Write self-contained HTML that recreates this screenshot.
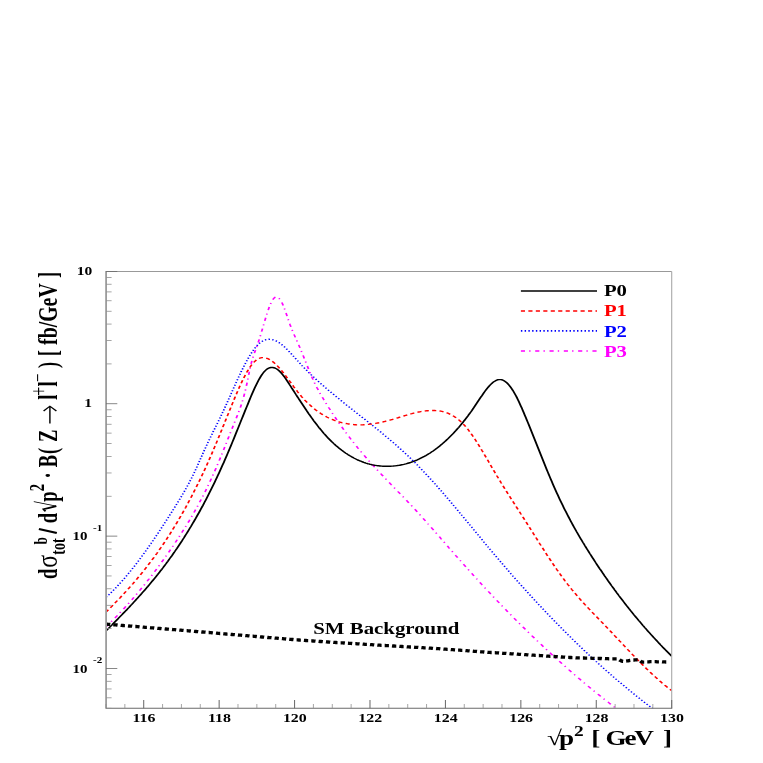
<!DOCTYPE html>
<html><head><meta charset="utf-8"><title>plot</title>
<style>html,body{margin:0;padding:0;background:#fff;}body{width:763px;height:763px;overflow:hidden;font-family:"Liberation Serif",serif;}</style>
</head><body>
<svg width="763" height="763" viewBox="0 0 763 763" style="display:block;will-change:transform;transform:translateZ(0)" font-family="'Liberation Serif', serif" font-weight="bold">
<rect width="763" height="763" fill="#fff"/>
<defs><clipPath id="c"><rect x="81.87" y="271.4" width="436.90" height="436.90"/></clipPath></defs>
<g transform="scale(1.2948,1)">
<g clip-path="url(#c)" fill="none">
<path d="M81.87,597.3 L82.64,596.4 L83.41,595.5 L84.18,594.6 L84.96,593.6 L85.73,592.7 L86.50,591.7 L87.27,590.7 L88.04,589.7 L88.82,588.7 L89.59,587.6 L90.36,586.6 L91.13,585.5 L91.91,584.4 L92.68,583.3 L93.45,582.2 L94.22,581.1 L95.00,580.0 L95.77,578.8 L96.54,577.7 L97.31,576.5 L98.08,575.3 L98.86,574.1 L99.63,572.9 L100.40,571.7 L101.17,570.4 L101.95,569.2 L102.72,567.9 L103.49,566.7 L104.26,565.4 L105.04,564.1 L105.81,562.8 L106.58,561.5 L107.35,560.2 L108.12,558.8 L108.90,557.5 L109.67,556.1 L110.44,554.7 L111.21,553.4 L111.99,552.0 L112.76,550.6 L113.53,549.2 L114.30,547.8 L115.08,546.4 L115.85,544.9 L116.62,543.5 L117.39,542.0 L118.16,540.6 L118.94,539.1 L119.71,537.7 L120.48,536.2 L121.25,534.7 L122.03,533.2 L122.80,531.7 L123.57,530.2 L124.34,528.7 L125.12,527.1 L125.89,525.6 L126.66,524.1 L127.43,522.5 L128.21,521.0 L128.98,519.4 L129.75,517.9 L130.52,516.3 L131.29,514.7 L132.07,513.2 L132.84,511.6 L133.61,510.0 L134.38,508.4 L135.16,506.8 L135.93,505.2 L136.70,503.6 L137.47,502.0 L138.25,500.4 L139.02,498.7 L139.79,497.1 L140.56,495.4 L141.33,493.7 L142.11,492.0 L142.88,490.3 L143.65,488.5 L144.42,486.7 L145.20,484.9 L145.97,483.0 L146.74,481.1 L147.51,479.2 L148.29,477.2 L149.06,475.2 L149.83,473.2 L150.60,471.1 L151.37,468.9 L152.15,466.8 L152.92,464.5 L153.69,462.3 L154.46,460.0 L155.24,457.7 L156.01,455.5 L156.78,453.2 L157.55,451.0 L158.33,448.8 L159.10,446.6 L159.87,444.5 L160.64,442.3 L161.41,440.3 L162.19,438.2 L162.96,436.2 L163.73,434.2 L164.50,432.1 L165.28,430.1 L166.05,428.1 L166.82,426.1 L167.59,424.1 L168.37,422.1 L169.14,420.0 L169.91,418.0 L170.68,415.9 L171.46,413.8 L172.23,411.6 L173.00,409.5 L173.77,407.3 L174.54,405.1 L175.32,402.9 L176.09,400.6 L176.86,398.4 L177.63,396.2 L178.41,393.9 L179.18,391.7 L179.95,389.5 L180.72,387.2 L181.50,385.0 L182.27,382.8 L183.04,380.6 L183.81,378.5 L184.58,376.3 L185.36,374.2 L186.13,372.1 L186.90,370.1 L187.67,368.0 L188.45,366.1 L189.22,364.1 L189.99,362.3 L190.76,360.4 L191.54,358.7 L192.31,356.9 L193.08,355.3 L193.85,353.7 L194.62,352.2 L195.40,350.7 L196.17,349.3 L196.94,348.0 L197.71,346.8 L198.49,345.7 L199.26,344.6 L200.03,343.7 L200.80,342.8 L201.58,342.1 L202.35,341.4 L203.12,340.8 L203.89,340.4 L204.66,340.0 L205.44,339.7 L206.21,339.4 L206.98,339.3 L207.75,339.2 L208.53,339.3 L209.30,339.4 L210.07,339.5 L210.84,339.8 L211.62,340.1 L212.39,340.5 L213.16,340.9 L213.93,341.4 L214.70,342.0 L215.48,342.6 L216.25,343.3 L217.02,344.1 L217.79,344.8 L218.57,345.7 L219.34,346.5 L220.11,347.4 L220.88,348.4 L221.66,349.4 L222.43,350.4 L223.20,351.4 L223.97,352.4 L224.75,353.5 L225.52,354.6 L226.29,355.7 L227.06,356.8 L227.83,357.9 L228.61,359.0 L229.38,360.1 L230.15,361.2 L230.92,362.3 L231.70,363.4 L232.47,364.5 L233.24,365.6 L234.01,366.6 L234.79,367.6 L235.56,368.7 L236.33,369.7 L237.10,370.7 L237.87,371.7 L238.65,372.7 L239.42,373.6 L240.19,374.6 L240.96,375.5 L241.74,376.5 L242.51,377.4 L243.28,378.4 L244.05,379.3 L244.83,380.2 L245.60,381.1 L246.37,382.0 L247.14,382.9 L247.91,383.8 L248.69,384.6 L249.46,385.5 L250.23,386.4 L251.00,387.2 L251.78,388.1 L252.55,389.0 L253.32,389.8 L254.09,390.7 L254.87,391.5 L255.64,392.3 L256.41,393.2 L257.18,394.0 L257.95,394.8 L258.73,395.7 L259.50,396.5 L260.27,397.3 L261.04,398.1 L261.82,398.9 L262.59,399.7 L263.36,400.5 L264.13,401.4 L264.91,402.2 L265.68,403.0 L266.45,403.8 L267.22,404.6 L268.00,405.4 L268.77,406.1 L269.54,406.9 L270.31,407.7 L271.08,408.5 L271.86,409.3 L272.63,410.1 L273.40,410.9 L274.17,411.7 L274.95,412.5 L275.72,413.2 L276.49,414.0 L277.26,414.8 L278.04,415.6 L278.81,416.4 L279.58,417.2 L280.35,418.0 L281.12,418.7 L281.90,419.5 L282.67,420.3 L283.44,421.1 L284.21,421.9 L284.99,422.7 L285.76,423.5 L286.53,424.3 L287.30,425.1 L288.08,425.9 L288.85,426.7 L289.62,427.5 L290.39,428.3 L291.16,429.1 L291.94,429.9 L292.71,430.7 L293.48,431.5 L294.25,432.3 L295.03,433.2 L295.80,434.0 L296.57,434.8 L297.34,435.6 L298.12,436.5 L298.89,437.3 L299.66,438.1 L300.43,439.0 L301.20,439.8 L301.98,440.7 L302.75,441.5 L303.52,442.4 L304.29,443.3 L305.07,444.1 L305.84,445.0 L306.61,445.9 L307.38,446.8 L308.16,447.7 L308.93,448.6 L309.70,449.5 L310.47,450.4 L311.24,451.3 L312.02,452.2 L312.79,453.1 L313.56,454.1 L314.33,455.0 L315.11,455.9 L315.88,456.9 L316.65,457.8 L317.42,458.8 L318.20,459.8 L318.97,460.8 L319.74,461.7 L320.51,462.7 L321.29,463.7 L322.06,464.7 L322.83,465.8 L323.60,466.8 L324.37,467.8 L325.15,468.8 L325.92,469.9 L326.69,470.9 L327.46,472.0 L328.24,473.0 L329.01,474.1 L329.78,475.2 L330.55,476.2 L331.33,477.3 L332.10,478.4 L332.87,479.5 L333.64,480.6 L334.41,481.7 L335.19,482.8 L335.96,483.9 L336.73,485.1 L337.50,486.2 L338.28,487.3 L339.05,488.5 L339.82,489.6 L340.59,490.7 L341.37,491.9 L342.14,493.0 L342.91,494.2 L343.68,495.3 L344.45,496.5 L345.23,497.7 L346.00,498.8 L346.77,500.0 L347.54,501.2 L348.32,502.4 L349.09,503.5 L349.86,504.7 L350.63,505.9 L351.41,507.1 L352.18,508.3 L352.95,509.5 L353.72,510.7 L354.49,511.9 L355.27,513.1 L356.04,514.3 L356.81,515.5 L357.58,516.7 L358.36,517.9 L359.13,519.1 L359.90,520.3 L360.67,521.5 L361.45,522.7 L362.22,523.9 L362.99,525.1 L363.76,526.3 L364.54,527.5 L365.31,528.8 L366.08,530.0 L366.85,531.2 L367.62,532.4 L368.40,533.6 L369.17,534.8 L369.94,536.0 L370.71,537.2 L371.49,538.4 L372.26,539.6 L373.03,540.8 L373.80,542.1 L374.58,543.3 L375.35,544.5 L376.12,545.7 L376.89,546.9 L377.66,548.1 L378.44,549.3 L379.21,550.4 L379.98,551.6 L380.75,552.8 L381.53,554.0 L382.30,555.2 L383.07,556.4 L383.84,557.6 L384.62,558.7 L385.39,559.9 L386.16,561.1 L386.93,562.2 L387.70,563.4 L388.48,564.6 L389.25,565.7 L390.02,566.9 L390.79,568.0 L391.57,569.2 L392.34,570.4 L393.11,571.5 L393.88,572.6 L394.66,573.8 L395.43,574.9 L396.20,576.1 L396.97,577.2 L397.74,578.3 L398.52,579.5 L399.29,580.6 L400.06,581.7 L400.83,582.8 L401.61,584.0 L402.38,585.1 L403.15,586.2 L403.92,587.3 L404.70,588.4 L405.47,589.5 L406.24,590.6 L407.01,591.7 L407.78,592.8 L408.56,593.9 L409.33,595.0 L410.10,596.1 L410.87,597.2 L411.65,598.3 L412.42,599.4 L413.19,600.5 L413.96,601.5 L414.74,602.6 L415.51,603.7 L416.28,604.8 L417.05,605.8 L417.83,606.9 L418.60,608.0 L419.37,609.0 L420.14,610.1 L420.91,611.1 L421.69,612.2 L422.46,613.2 L423.23,614.3 L424.00,615.3 L424.78,616.4 L425.55,617.4 L426.32,618.4 L427.09,619.5 L427.87,620.5 L428.64,621.5 L429.41,622.6 L430.18,623.6 L430.95,624.6 L431.73,625.6 L432.50,626.6 L433.27,627.6 L434.04,628.7 L434.82,629.7 L435.59,630.7 L436.36,631.7 L437.13,632.7 L437.91,633.7 L438.68,634.7 L439.45,635.6 L440.22,636.6 L440.99,637.6 L441.77,638.6 L442.54,639.6 L443.31,640.6 L444.08,641.5 L444.86,642.5 L445.63,643.5 L446.40,644.4 L447.17,645.4 L447.95,646.4 L448.72,647.3 L449.49,648.3 L450.26,649.2 L451.03,650.2 L451.81,651.1 L452.58,652.1 L453.35,653.0 L454.12,653.9 L454.90,654.9 L455.67,655.8 L456.44,656.7 L457.21,657.7 L457.99,658.6 L458.76,659.5 L459.53,660.4 L460.30,661.4 L461.08,662.3 L461.85,663.2 L462.62,664.1 L463.39,665.0 L464.16,665.9 L464.94,666.8 L465.71,667.7 L466.48,668.6 L467.25,669.5 L468.03,670.4 L468.80,671.2 L469.57,672.1 L470.34,673.0 L471.12,673.9 L471.89,674.8 L472.66,675.6 L473.43,676.5 L474.20,677.4 L474.98,678.2 L475.75,679.1 L476.52,679.9 L477.29,680.8 L478.07,681.6 L478.84,682.5 L479.61,683.3 L480.38,684.2 L481.16,685.0 L481.93,685.8 L482.70,686.7 L483.47,687.5 L484.24,688.3 L485.02,689.2 L485.79,690.0 L486.56,690.8 L487.33,691.6 L488.11,692.4 L488.88,693.2 L489.65,694.0 L490.42,694.9 L491.20,695.7 L491.97,696.5 L492.74,697.2 L493.51,698.0 L494.28,698.8 L495.06,699.6 L495.83,700.4 L496.60,701.2 L497.37,702.0 L498.15,702.7 L498.92,703.5 L499.69,704.3 L500.46,705.0 L501.24,705.8 L502.01,706.6 L502.78,707.3 L503.55,708.1 L504.32,708.8 L505.10,709.6 L505.87,710.3 L506.64,711.1 L507.41,711.8 L508.19,712.5 L508.96,713.3 L509.73,714.0" stroke="#0000ff" stroke-width="1.35" stroke-dasharray="1.15 1.75"/>
<path d="M81.87,626.7 L82.64,625.8 L83.41,624.8 L84.18,623.9 L84.96,622.9 L85.73,621.9 L86.50,620.9 L87.27,619.9 L88.04,618.9 L88.82,617.9 L89.59,616.9 L90.36,615.9 L91.13,614.8 L91.91,613.8 L92.68,612.7 L93.45,611.7 L94.22,610.6 L95.00,609.5 L95.77,608.5 L96.54,607.4 L97.31,606.3 L98.08,605.2 L98.86,604.1 L99.63,602.9 L100.40,601.8 L101.17,600.7 L101.95,599.6 L102.72,598.4 L103.49,597.2 L104.26,596.1 L105.04,594.9 L105.81,593.7 L106.58,592.5 L107.35,591.4 L108.12,590.1 L108.90,588.9 L109.67,587.7 L110.44,586.5 L111.21,585.3 L111.99,584.0 L112.76,582.8 L113.53,581.5 L114.30,580.2 L115.08,579.0 L115.85,577.7 L116.62,576.4 L117.39,575.1 L118.16,573.8 L118.94,572.5 L119.71,571.2 L120.48,569.8 L121.25,568.5 L122.03,567.2 L122.80,565.8 L123.57,564.4 L124.34,563.1 L125.12,561.7 L125.89,560.3 L126.66,558.9 L127.43,557.5 L128.21,556.1 L128.98,554.7 L129.75,553.2 L130.52,551.8 L131.29,550.4 L132.07,548.9 L132.84,547.4 L133.61,546.0 L134.38,544.5 L135.16,543.0 L135.93,541.5 L136.70,540.0 L137.47,538.5 L138.25,537.0 L139.02,535.4 L139.79,533.9 L140.56,532.3 L141.33,530.8 L142.11,529.2 L142.88,527.6 L143.65,526.0 L144.42,524.4 L145.20,522.7 L145.97,521.1 L146.74,519.4 L147.51,517.7 L148.29,516.0 L149.06,514.3 L149.83,512.5 L150.60,510.7 L151.37,509.0 L152.15,507.2 L152.92,505.3 L153.69,503.5 L154.46,501.6 L155.24,499.7 L156.01,497.8 L156.78,495.9 L157.55,493.9 L158.33,491.9 L159.10,489.9 L159.87,487.8 L160.64,485.8 L161.41,483.7 L162.19,481.6 L162.96,479.4 L163.73,477.2 L164.50,475.0 L165.28,472.8 L166.05,470.5 L166.82,468.2 L167.59,465.9 L168.37,463.5 L169.14,461.1 L169.91,458.7 L170.68,456.3 L171.46,453.8 L172.23,451.4 L173.00,448.9 L173.77,446.4 L174.54,443.9 L175.32,441.4 L176.09,438.8 L176.86,436.3 L177.63,433.8 L178.41,431.3 L179.18,428.8 L179.95,426.2 L180.72,423.7 L181.50,421.2 L182.27,418.8 L183.04,416.3 L183.81,413.8 L184.58,411.2 L185.36,408.5 L186.13,405.6 L186.90,402.5 L187.67,399.3 L188.45,395.7 L189.22,391.9 L189.99,387.7 L190.76,383.1 L191.54,378.2 L192.31,373.3 L193.08,368.5 L193.85,364.3 L194.62,360.5 L195.40,357.2 L196.17,354.3 L196.94,351.5 L197.71,348.8 L198.49,346.1 L199.26,343.2 L200.03,340.1 L200.80,337.0 L201.58,333.7 L202.35,330.3 L203.12,327.0 L203.89,323.6 L204.66,320.2 L205.44,316.9 L206.21,313.7 L206.98,310.7 L207.75,307.8 L208.53,305.2 L209.30,302.9 L210.07,300.9 L210.84,299.3 L211.62,298.1 L212.39,297.4 L213.16,297.0 L213.93,297.1 L214.70,297.5 L215.48,298.3 L216.25,299.5 L217.02,301.0 L217.79,302.8 L218.57,305.0 L219.34,307.5 L220.11,310.1 L220.88,313.0 L221.66,315.9 L222.43,318.8 L223.20,321.7 L223.97,324.5 L224.75,327.1 L225.52,329.6 L226.29,332.0 L227.06,334.3 L227.83,336.6 L228.61,338.8 L229.38,341.0 L230.15,343.3 L230.92,345.6 L231.70,347.9 L232.47,350.3 L233.24,352.8 L234.01,355.2 L234.79,357.7 L235.56,360.2 L236.33,362.7 L237.10,365.2 L237.87,367.7 L238.65,370.2 L239.42,372.6 L240.19,374.9 L240.96,377.3 L241.74,379.5 L242.51,381.7 L243.28,383.8 L244.05,385.8 L244.83,387.8 L245.60,389.6 L246.37,391.5 L247.14,393.3 L247.91,395.0 L248.69,396.7 L249.46,398.3 L250.23,400.0 L251.00,401.6 L251.78,403.2 L252.55,404.8 L253.32,406.4 L254.09,408.0 L254.87,409.5 L255.64,411.1 L256.41,412.6 L257.18,414.1 L257.95,415.6 L258.73,417.1 L259.50,418.6 L260.27,420.1 L261.04,421.5 L261.82,423.0 L262.59,424.4 L263.36,425.8 L264.13,427.2 L264.91,428.6 L265.68,430.0 L266.45,431.4 L267.22,432.7 L268.00,434.1 L268.77,435.4 L269.54,436.7 L270.31,438.0 L271.08,439.3 L271.86,440.6 L272.63,441.9 L273.40,443.1 L274.17,444.4 L274.95,445.6 L275.72,446.8 L276.49,448.1 L277.26,449.3 L278.04,450.5 L278.81,451.7 L279.58,452.8 L280.35,454.0 L281.12,455.2 L281.90,456.3 L282.67,457.5 L283.44,458.6 L284.21,459.7 L284.99,460.9 L285.76,462.0 L286.53,463.1 L287.30,464.2 L288.08,465.3 L288.85,466.4 L289.62,467.5 L290.39,468.6 L291.16,469.7 L291.94,470.7 L292.71,471.8 L293.48,472.9 L294.25,473.9 L295.03,475.0 L295.80,476.0 L296.57,477.1 L297.34,478.1 L298.12,479.2 L298.89,480.2 L299.66,481.3 L300.43,482.3 L301.20,483.3 L301.98,484.4 L302.75,485.4 L303.52,486.4 L304.29,487.5 L305.07,488.5 L305.84,489.5 L306.61,490.5 L307.38,491.6 L308.16,492.6 L308.93,493.6 L309.70,494.7 L310.47,495.7 L311.24,496.7 L312.02,497.8 L312.79,498.8 L313.56,499.9 L314.33,500.9 L315.11,502.0 L315.88,503.0 L316.65,504.1 L317.42,505.1 L318.20,506.2 L318.97,507.3 L319.74,508.3 L320.51,509.4 L321.29,510.5 L322.06,511.6 L322.83,512.7 L323.60,513.7 L324.37,514.8 L325.15,515.9 L325.92,517.1 L326.69,518.2 L327.46,519.3 L328.24,520.4 L329.01,521.5 L329.78,522.6 L330.55,523.8 L331.33,524.9 L332.10,526.0 L332.87,527.2 L333.64,528.3 L334.41,529.4 L335.19,530.6 L335.96,531.7 L336.73,532.8 L337.50,534.0 L338.28,535.1 L339.05,536.3 L339.82,537.4 L340.59,538.6 L341.37,539.7 L342.14,540.9 L342.91,542.0 L343.68,543.2 L344.45,544.3 L345.23,545.5 L346.00,546.6 L346.77,547.8 L347.54,548.9 L348.32,550.1 L349.09,551.2 L349.86,552.4 L350.63,553.5 L351.41,554.6 L352.18,555.8 L352.95,556.9 L353.72,558.1 L354.49,559.2 L355.27,560.3 L356.04,561.4 L356.81,562.6 L357.58,563.7 L358.36,564.8 L359.13,565.9 L359.90,567.1 L360.67,568.2 L361.45,569.3 L362.22,570.4 L362.99,571.5 L363.76,572.6 L364.54,573.7 L365.31,574.8 L366.08,575.9 L366.85,577.0 L367.62,578.1 L368.40,579.2 L369.17,580.3 L369.94,581.4 L370.71,582.5 L371.49,583.6 L372.26,584.7 L373.03,585.7 L373.80,586.8 L374.58,587.9 L375.35,589.0 L376.12,590.0 L376.89,591.1 L377.66,592.2 L378.44,593.2 L379.21,594.3 L379.98,595.3 L380.75,596.4 L381.53,597.5 L382.30,598.5 L383.07,599.6 L383.84,600.6 L384.62,601.7 L385.39,602.7 L386.16,603.7 L386.93,604.8 L387.70,605.8 L388.48,606.8 L389.25,607.9 L390.02,608.9 L390.79,609.9 L391.57,611.0 L392.34,612.0 L393.11,613.0 L393.88,614.0 L394.66,615.0 L395.43,616.0 L396.20,617.1 L396.97,618.1 L397.74,619.1 L398.52,620.1 L399.29,621.1 L400.06,622.1 L400.83,623.1 L401.61,624.1 L402.38,625.1 L403.15,626.0 L403.92,627.0 L404.70,628.0 L405.47,629.0 L406.24,630.0 L407.01,631.0 L407.78,631.9 L408.56,632.9 L409.33,633.9 L410.10,634.8 L410.87,635.8 L411.65,636.8 L412.42,637.7 L413.19,638.7 L413.96,639.7 L414.74,640.6 L415.51,641.6 L416.28,642.5 L417.05,643.5 L417.83,644.4 L418.60,645.3 L419.37,646.3 L420.14,647.2 L420.91,648.2 L421.69,649.1 L422.46,650.0 L423.23,650.9 L424.00,651.9 L424.78,652.8 L425.55,653.7 L426.32,654.6 L427.09,655.5 L427.87,656.5 L428.64,657.4 L429.41,658.3 L430.18,659.2 L430.95,660.1 L431.73,661.0 L432.50,661.9 L433.27,662.8 L434.04,663.7 L434.82,664.6 L435.59,665.5 L436.36,666.3 L437.13,667.2 L437.91,668.1 L438.68,669.0 L439.45,669.9 L440.22,670.7 L440.99,671.6 L441.77,672.5 L442.54,673.3 L443.31,674.2 L444.08,675.1 L444.86,675.9 L445.63,676.8 L446.40,677.6 L447.17,678.5 L447.95,679.3 L448.72,680.2 L449.49,681.0 L450.26,681.9 L451.03,682.7 L451.81,683.6 L452.58,684.4 L453.35,685.2 L454.12,686.1 L454.90,686.9 L455.67,687.7 L456.44,688.5 L457.21,689.4 L457.99,690.2 L458.76,691.0 L459.53,691.8 L460.30,692.6 L461.08,693.4 L461.85,694.2 L462.62,695.0 L463.39,695.8 L464.16,696.6 L464.94,697.4 L465.71,698.2 L466.48,699.0 L467.25,699.8 L468.03,700.6 L468.80,701.4 L469.57,702.1 L470.34,702.9 L471.12,703.7 L471.89,704.5 L472.66,705.2 L473.43,706.0 L474.20,706.8 L474.98,707.5 L475.75,708.3 L476.52,709.1 L477.29,709.8 L478.07,710.6 L478.84,711.3 L479.61,712.1 L480.38,712.8" stroke="#ff00ff" stroke-width="1.35" stroke-dasharray="3.2 3.2 1.1 3.6"/>
<path d="M81.71,612.3 L82.48,611.3 L83.26,610.3 L84.03,609.3 L84.80,608.3 L85.57,607.3 L86.35,606.3 L87.12,605.3 L87.89,604.3 L88.66,603.3 L89.43,602.2 L90.21,601.2 L90.98,600.2 L91.75,599.1 L92.52,598.1 L93.30,597.0 L94.07,595.9 L94.84,594.9 L95.61,593.8 L96.39,592.7 L97.16,591.6 L97.93,590.5 L98.70,589.4 L99.47,588.3 L100.25,587.2 L101.02,586.1 L101.79,584.9 L102.56,583.8 L103.34,582.6 L104.11,581.5 L104.88,580.3 L105.65,579.1 L106.43,577.9 L107.20,576.7 L107.97,575.5 L108.74,574.3 L109.51,573.1 L110.29,571.9 L111.06,570.6 L111.83,569.4 L112.60,568.1 L113.38,566.8 L114.15,565.5 L114.92,564.2 L115.69,562.9 L116.47,561.6 L117.24,560.3 L118.01,558.9 L118.78,557.6 L119.56,556.2 L120.33,554.8 L121.10,553.5 L121.87,552.1 L122.64,550.6 L123.42,549.2 L124.19,547.8 L124.96,546.3 L125.73,544.9 L126.51,543.4 L127.28,541.9 L128.05,540.4 L128.82,538.9 L129.60,537.3 L130.37,535.8 L131.14,534.2 L131.91,532.6 L132.68,531.1 L133.46,529.4 L134.23,527.8 L135.00,526.2 L135.77,524.5 L136.55,522.9 L137.32,521.2 L138.09,519.5 L138.86,517.8 L139.64,516.1 L140.41,514.3 L141.18,512.6 L141.95,510.8 L142.72,509.0 L143.50,507.2 L144.27,505.3 L145.04,503.5 L145.81,501.6 L146.59,499.8 L147.36,497.9 L148.13,495.9 L148.90,494.0 L149.68,492.1 L150.45,490.1 L151.22,488.1 L151.99,486.1 L152.76,484.1 L153.54,482.0 L154.31,480.0 L155.08,477.9 L155.85,475.8 L156.63,473.7 L157.40,471.5 L158.17,469.4 L158.94,467.2 L159.72,465.0 L160.49,462.8 L161.26,460.5 L162.03,458.3 L162.81,456.0 L163.58,453.7 L164.35,451.3 L165.12,449.0 L165.89,446.6 L166.67,444.3 L167.44,441.9 L168.21,439.4 L168.98,437.0 L169.76,434.6 L170.53,432.1 L171.30,429.7 L172.07,427.2 L172.85,424.7 L173.62,422.3 L174.39,419.8 L175.16,417.3 L175.93,414.9 L176.71,412.4 L177.48,410.0 L178.25,407.5 L179.02,405.1 L179.80,402.6 L180.57,400.2 L181.34,397.8 L182.11,395.5 L182.89,393.1 L183.66,390.8 L184.43,388.5 L185.20,386.3 L185.97,384.1 L186.75,382.0 L187.52,379.9 L188.29,377.9 L189.06,376.0 L189.84,374.1 L190.61,372.3 L191.38,370.6 L192.15,369.0 L192.93,367.5 L193.70,366.0 L194.47,364.7 L195.24,363.5 L196.01,362.4 L196.79,361.4 L197.56,360.5 L198.33,359.7 L199.10,359.1 L199.88,358.6 L200.65,358.2 L201.42,357.9 L202.19,357.7 L202.97,357.6 L203.74,357.7 L204.51,357.8 L205.28,358.0 L206.05,358.3 L206.83,358.7 L207.60,359.1 L208.37,359.7 L209.14,360.3 L209.92,360.9 L210.69,361.7 L211.46,362.5 L212.23,363.4 L213.01,364.3 L213.78,365.3 L214.55,366.3 L215.32,367.4 L216.10,368.6 L216.87,369.7 L217.64,370.9 L218.41,372.1 L219.18,373.4 L219.96,374.7 L220.73,376.0 L221.50,377.3 L222.27,378.7 L223.05,380.0 L223.82,381.4 L224.59,382.7 L225.36,384.1 L226.14,385.4 L226.91,386.8 L227.68,388.1 L228.45,389.4 L229.22,390.7 L230.00,392.0 L230.77,393.2 L231.54,394.5 L232.31,395.6 L233.09,396.8 L233.86,397.9 L234.63,399.0 L235.40,400.1 L236.18,401.1 L236.95,402.1 L237.72,403.1 L238.49,404.0 L239.26,404.9 L240.04,405.8 L240.81,406.7 L241.58,407.6 L242.35,408.4 L243.13,409.2 L243.90,410.0 L244.67,410.7 L245.44,411.4 L246.22,412.1 L246.99,412.8 L247.76,413.5 L248.53,414.1 L249.30,414.7 L250.08,415.3 L250.85,415.9 L251.62,416.4 L252.39,417.0 L253.17,417.5 L253.94,418.0 L254.71,418.4 L255.48,418.9 L256.26,419.3 L257.03,419.7 L257.80,420.1 L258.57,420.5 L259.35,420.9 L260.12,421.2 L260.89,421.5 L261.66,421.8 L262.43,422.1 L263.21,422.4 L263.98,422.7 L264.75,422.9 L265.52,423.1 L266.30,423.3 L267.07,423.5 L267.84,423.7 L268.61,423.9 L269.39,424.0 L270.16,424.2 L270.93,424.3 L271.70,424.4 L272.47,424.5 L273.25,424.6 L274.02,424.7 L274.79,424.7 L275.56,424.8 L276.34,424.8 L277.11,424.8 L277.88,424.8 L278.65,424.8 L279.43,424.8 L280.20,424.8 L280.97,424.7 L281.74,424.7 L282.51,424.6 L283.29,424.5 L284.06,424.4 L284.83,424.3 L285.60,424.2 L286.38,424.1 L287.15,424.0 L287.92,423.8 L288.69,423.7 L289.47,423.5 L290.24,423.4 L291.01,423.2 L291.78,423.0 L292.55,422.8 L293.33,422.6 L294.10,422.4 L294.87,422.2 L295.64,422.0 L296.42,421.7 L297.19,421.5 L297.96,421.2 L298.73,421.0 L299.51,420.7 L300.28,420.5 L301.05,420.2 L301.82,419.9 L302.59,419.6 L303.37,419.3 L304.14,419.0 L304.91,418.7 L305.68,418.4 L306.46,418.1 L307.23,417.8 L308.00,417.5 L308.77,417.2 L309.55,416.9 L310.32,416.6 L311.09,416.3 L311.86,416.0 L312.64,415.7 L313.41,415.4 L314.18,415.1 L314.95,414.8 L315.72,414.5 L316.50,414.2 L317.27,413.9 L318.04,413.7 L318.81,413.4 L319.59,413.1 L320.36,412.9 L321.13,412.7 L321.90,412.4 L322.68,412.2 L323.45,412.0 L324.22,411.8 L324.99,411.6 L325.76,411.4 L326.54,411.3 L327.31,411.1 L328.08,411.0 L328.85,410.9 L329.63,410.7 L330.40,410.7 L331.17,410.6 L331.94,410.5 L332.72,410.5 L333.49,410.5 L334.26,410.5 L335.03,410.5 L335.80,410.5 L336.58,410.6 L337.35,410.6 L338.12,410.8 L338.89,410.9 L339.67,411.0 L340.44,411.2 L341.21,411.4 L341.98,411.6 L342.76,411.9 L343.53,412.2 L344.30,412.5 L345.07,412.8 L345.84,413.2 L346.62,413.6 L347.39,414.1 L348.16,414.6 L348.93,415.1 L349.71,415.7 L350.48,416.3 L351.25,416.9 L352.02,417.6 L352.80,418.3 L353.57,419.1 L354.34,419.9 L355.11,420.7 L355.89,421.6 L356.66,422.6 L357.43,423.6 L358.20,424.6 L358.97,425.7 L359.75,426.8 L360.52,428.0 L361.29,429.2 L362.06,430.5 L362.84,431.8 L363.61,433.2 L364.38,434.6 L365.15,436.0 L365.93,437.5 L366.70,439.0 L367.47,440.5 L368.24,442.1 L369.01,443.6 L369.79,445.2 L370.56,446.9 L371.33,448.5 L372.10,450.2 L372.88,451.8 L373.65,453.5 L374.42,455.2 L375.19,456.9 L375.97,458.6 L376.74,460.3 L377.51,462.1 L378.28,463.8 L379.05,465.5 L379.83,467.2 L380.60,468.9 L381.37,470.6 L382.14,472.3 L382.92,474.0 L383.69,475.7 L384.46,477.3 L385.23,479.0 L386.01,480.6 L386.78,482.3 L387.55,483.9 L388.32,485.5 L389.09,487.1 L389.87,488.7 L390.64,490.3 L391.41,491.9 L392.18,493.5 L392.96,495.1 L393.73,496.6 L394.50,498.2 L395.27,499.8 L396.05,501.3 L396.82,502.9 L397.59,504.4 L398.36,506.0 L399.14,507.6 L399.91,509.1 L400.68,510.7 L401.45,512.2 L402.22,513.8 L403.00,515.3 L403.77,516.9 L404.54,518.4 L405.31,520.0 L406.09,521.6 L406.86,523.1 L407.63,524.7 L408.40,526.3 L409.18,527.9 L409.95,529.5 L410.72,531.0 L411.49,532.6 L412.26,534.2 L413.04,535.8 L413.81,537.4 L414.58,538.9 L415.35,540.5 L416.13,542.1 L416.90,543.7 L417.67,545.2 L418.44,546.8 L419.22,548.4 L419.99,549.9 L420.76,551.5 L421.53,553.0 L422.30,554.6 L423.08,556.1 L423.85,557.6 L424.62,559.1 L425.39,560.6 L426.17,562.1 L426.94,563.6 L427.71,565.1 L428.48,566.6 L429.26,568.0 L430.03,569.5 L430.80,570.9 L431.57,572.3 L432.34,573.7 L433.12,575.1 L433.89,576.5 L434.66,577.9 L435.43,579.2 L436.21,580.6 L436.98,581.9 L437.75,583.2 L438.52,584.5 L439.30,585.7 L440.07,587.0 L440.84,588.2 L441.61,589.5 L442.38,590.7 L443.16,591.9 L443.93,593.1 L444.70,594.2 L445.47,595.4 L446.25,596.6 L447.02,597.7 L447.79,598.8 L448.56,600.0 L449.34,601.1 L450.11,602.2 L450.88,603.3 L451.65,604.4 L452.43,605.4 L453.20,606.5 L453.97,607.6 L454.74,608.7 L455.51,609.7 L456.29,610.8 L457.06,611.8 L457.83,612.9 L458.60,613.9 L459.38,614.9 L460.15,616.0 L460.92,617.0 L461.69,618.0 L462.47,619.1 L463.24,620.1 L464.01,621.1 L464.78,622.2 L465.55,623.2 L466.33,624.2 L467.10,625.3 L467.87,626.3 L468.64,627.3 L469.42,628.4 L470.19,629.4 L470.96,630.5 L471.73,631.5 L472.51,632.6 L473.28,633.7 L474.05,634.7 L474.82,635.8 L475.59,636.8 L476.37,637.9 L477.14,639.0 L477.91,640.0 L478.68,641.1 L479.46,642.1 L480.23,643.2 L481.00,644.3 L481.77,645.3 L482.55,646.4 L483.32,647.4 L484.09,648.5 L484.86,649.6 L485.63,650.6 L486.41,651.7 L487.18,652.7 L487.95,653.8 L488.72,654.8 L489.50,655.8 L490.27,656.9 L491.04,657.9 L491.81,658.9 L492.59,660.0 L493.36,661.0 L494.13,662.0 L494.90,663.0 L495.68,664.0 L496.45,665.0 L497.22,666.0 L497.99,667.0 L498.76,668.0 L499.54,669.0 L500.31,669.9 L501.08,670.9 L501.85,671.8 L502.63,672.8 L503.40,673.7 L504.17,674.7 L504.94,675.6 L505.72,676.5 L506.49,677.4 L507.26,678.3 L508.03,679.2 L508.80,680.1 L509.58,681.0 L510.35,681.8 L511.12,682.7 L511.89,683.5 L512.67,684.3 L513.44,685.2 L514.21,686.0 L514.98,686.8 L515.76,687.6 L516.53,688.3 L517.30,689.1 L518.07,689.9 L518.84,690.6" stroke="#ff0000" stroke-width="1.35" stroke-dasharray="3.2 2.56"/>
<path d="M81.71,631.1 L82.48,630.1 L83.26,629.1 L84.03,628.1 L84.80,627.1 L85.57,626.1 L86.35,625.1 L87.12,624.0 L87.89,623.0 L88.66,622.0 L89.43,621.0 L90.21,620.0 L90.98,619.0 L91.75,617.9 L92.52,616.9 L93.30,615.9 L94.07,614.9 L94.84,613.8 L95.61,612.8 L96.39,611.8 L97.16,610.7 L97.93,609.7 L98.70,608.6 L99.47,607.6 L100.25,606.5 L101.02,605.4 L101.79,604.4 L102.56,603.3 L103.34,602.2 L104.11,601.1 L104.88,600.0 L105.65,598.9 L106.43,597.8 L107.20,596.7 L107.97,595.6 L108.74,594.5 L109.51,593.4 L110.29,592.2 L111.06,591.1 L111.83,590.0 L112.60,588.8 L113.38,587.6 L114.15,586.5 L114.92,585.3 L115.69,584.1 L116.47,582.9 L117.24,581.7 L118.01,580.5 L118.78,579.3 L119.56,578.1 L120.33,576.9 L121.10,575.6 L121.87,574.4 L122.64,573.1 L123.42,571.8 L124.19,570.5 L124.96,569.3 L125.73,568.0 L126.51,566.6 L127.28,565.3 L128.05,564.0 L128.82,562.6 L129.60,561.3 L130.37,559.9 L131.14,558.5 L131.91,557.2 L132.68,555.8 L133.46,554.3 L134.23,552.9 L135.00,551.5 L135.77,550.0 L136.55,548.6 L137.32,547.1 L138.09,545.6 L138.86,544.1 L139.64,542.6 L140.41,541.1 L141.18,539.5 L141.95,538.0 L142.72,536.4 L143.50,534.8 L144.27,533.2 L145.04,531.6 L145.81,530.0 L146.59,528.3 L147.36,526.7 L148.13,525.0 L148.90,523.3 L149.68,521.6 L150.45,519.9 L151.22,518.2 L151.99,516.4 L152.76,514.6 L153.54,512.9 L154.31,511.1 L155.08,509.2 L155.85,507.4 L156.63,505.6 L157.40,503.7 L158.17,501.8 L158.94,499.9 L159.72,498.0 L160.49,496.0 L161.26,494.1 L162.03,492.1 L162.81,490.1 L163.58,488.1 L164.35,486.0 L165.12,484.0 L165.89,481.9 L166.67,479.8 L167.44,477.7 L168.21,475.6 L168.98,473.4 L169.76,471.3 L170.53,469.1 L171.30,466.8 L172.07,464.6 L172.85,462.4 L173.62,460.1 L174.39,457.8 L175.16,455.5 L175.93,453.1 L176.71,450.8 L177.48,448.4 L178.25,446.0 L179.02,443.6 L179.80,441.1 L180.57,438.7 L181.34,436.3 L182.11,433.8 L182.89,431.3 L183.66,428.9 L184.43,426.4 L185.20,423.9 L185.97,421.4 L186.75,418.9 L187.52,416.5 L188.29,414.0 L189.06,411.5 L189.84,409.0 L190.61,406.6 L191.38,404.2 L192.15,401.7 L192.93,399.3 L193.70,396.9 L194.47,394.6 L195.24,392.3 L196.01,390.0 L196.79,387.8 L197.56,385.7 L198.33,383.7 L199.10,381.7 L199.88,379.8 L200.65,378.1 L201.42,376.4 L202.19,374.9 L202.97,373.5 L203.74,372.2 L204.51,371.1 L205.28,370.1 L206.05,369.3 L206.83,368.6 L207.60,368.1 L208.37,367.8 L209.14,367.5 L209.92,367.5 L210.69,367.5 L211.46,367.7 L212.23,368.0 L213.01,368.5 L213.78,369.0 L214.55,369.7 L215.32,370.5 L216.10,371.5 L216.87,372.5 L217.64,373.6 L218.41,374.9 L219.18,376.2 L219.96,377.5 L220.73,378.9 L221.50,380.4 L222.27,381.9 L223.05,383.4 L223.82,385.0 L224.59,386.5 L225.36,388.1 L226.14,389.6 L226.91,391.2 L227.68,392.7 L228.45,394.3 L229.22,395.8 L230.00,397.3 L230.77,398.9 L231.54,400.4 L232.31,401.9 L233.09,403.4 L233.86,404.9 L234.63,406.4 L235.40,407.9 L236.18,409.4 L236.95,410.9 L237.72,412.3 L238.49,413.8 L239.26,415.2 L240.04,416.6 L240.81,418.0 L241.58,419.4 L242.35,420.8 L243.13,422.1 L243.90,423.4 L244.67,424.7 L245.44,426.0 L246.22,427.3 L246.99,428.5 L247.76,429.7 L248.53,430.9 L249.30,432.1 L250.08,433.3 L250.85,434.4 L251.62,435.5 L252.39,436.6 L253.17,437.7 L253.94,438.7 L254.71,439.7 L255.48,440.7 L256.26,441.7 L257.03,442.6 L257.80,443.6 L258.57,444.5 L259.35,445.4 L260.12,446.2 L260.89,447.1 L261.66,447.9 L262.43,448.7 L263.21,449.5 L263.98,450.3 L264.75,451.0 L265.52,451.8 L266.30,452.5 L267.07,453.2 L267.84,453.8 L268.61,454.5 L269.39,455.1 L270.16,455.7 L270.93,456.3 L271.70,456.9 L272.47,457.4 L273.25,458.0 L274.02,458.5 L274.79,459.0 L275.56,459.5 L276.34,460.0 L277.11,460.4 L277.88,460.8 L278.65,461.2 L279.43,461.6 L280.20,462.0 L280.97,462.4 L281.74,462.7 L282.51,463.1 L283.29,463.4 L284.06,463.7 L284.83,463.9 L285.60,464.2 L286.38,464.4 L287.15,464.7 L287.92,464.9 L288.69,465.1 L289.47,465.3 L290.24,465.4 L291.01,465.6 L291.78,465.7 L292.55,465.8 L293.33,466.0 L294.10,466.0 L294.87,466.1 L295.64,466.2 L296.42,466.2 L297.19,466.3 L297.96,466.3 L298.73,466.3 L299.51,466.3 L300.28,466.3 L301.05,466.3 L301.82,466.2 L302.59,466.1 L303.37,466.1 L304.14,466.0 L304.91,465.9 L305.68,465.8 L306.46,465.6 L307.23,465.5 L308.00,465.4 L308.77,465.2 L309.55,465.0 L310.32,464.8 L311.09,464.6 L311.86,464.4 L312.64,464.1 L313.41,463.9 L314.18,463.6 L314.95,463.3 L315.72,463.0 L316.50,462.7 L317.27,462.4 L318.04,462.0 L318.81,461.7 L319.59,461.3 L320.36,460.9 L321.13,460.5 L321.90,460.1 L322.68,459.6 L323.45,459.2 L324.22,458.7 L324.99,458.2 L325.76,457.7 L326.54,457.2 L327.31,456.7 L328.08,456.1 L328.85,455.6 L329.63,455.0 L330.40,454.4 L331.17,453.8 L331.94,453.2 L332.72,452.5 L333.49,451.8 L334.26,451.2 L335.03,450.5 L335.80,449.8 L336.58,449.0 L337.35,448.3 L338.12,447.5 L338.89,446.7 L339.67,445.9 L340.44,445.1 L341.21,444.3 L341.98,443.4 L342.76,442.5 L343.53,441.6 L344.30,440.7 L345.07,439.8 L345.84,438.9 L346.62,437.9 L347.39,436.9 L348.16,435.9 L348.93,434.9 L349.71,433.9 L350.48,432.8 L351.25,431.7 L352.02,430.7 L352.80,429.5 L353.57,428.4 L354.34,427.3 L355.11,426.1 L355.89,424.9 L356.66,423.7 L357.43,422.5 L358.20,421.2 L358.97,420.0 L359.75,418.7 L360.52,417.4 L361.29,416.1 L362.06,414.7 L362.84,413.3 L363.61,412.0 L364.38,410.6 L365.15,409.1 L365.93,407.7 L366.70,406.2 L367.47,404.7 L368.24,403.2 L369.01,401.7 L369.79,400.2 L370.56,398.7 L371.33,397.2 L372.10,395.8 L372.88,394.3 L373.65,392.9 L374.42,391.5 L375.19,390.2 L375.97,388.9 L376.74,387.7 L377.51,386.5 L378.28,385.4 L379.05,384.4 L379.83,383.4 L380.60,382.6 L381.37,381.8 L382.14,381.2 L382.92,380.6 L383.69,380.2 L384.46,379.8 L385.23,379.6 L386.01,379.6 L386.78,379.6 L387.55,379.8 L388.32,380.2 L389.09,380.6 L389.87,381.2 L390.64,382.0 L391.41,382.8 L392.18,383.8 L392.96,384.9 L393.73,386.1 L394.50,387.4 L395.27,388.8 L396.05,390.3 L396.82,392.0 L397.59,393.7 L398.36,395.5 L399.14,397.4 L399.91,399.4 L400.68,401.5 L401.45,403.7 L402.22,405.9 L403.00,408.1 L403.77,410.4 L404.54,412.8 L405.31,415.2 L406.09,417.5 L406.86,420.0 L407.63,422.4 L408.40,424.8 L409.18,427.3 L409.95,429.8 L410.72,432.2 L411.49,434.7 L412.26,437.2 L413.04,439.7 L413.81,442.3 L414.58,444.8 L415.35,447.3 L416.13,449.8 L416.90,452.3 L417.67,454.8 L418.44,457.3 L419.22,459.8 L419.99,462.3 L420.76,464.8 L421.53,467.2 L422.30,469.7 L423.08,472.1 L423.85,474.5 L424.62,476.9 L425.39,479.3 L426.17,481.6 L426.94,484.0 L427.71,486.3 L428.48,488.5 L429.26,490.8 L430.03,493.0 L430.80,495.1 L431.57,497.3 L432.34,499.4 L433.12,501.5 L433.89,503.6 L434.66,505.6 L435.43,507.7 L436.21,509.7 L436.98,511.6 L437.75,513.6 L438.52,515.5 L439.30,517.4 L440.07,519.3 L440.84,521.2 L441.61,523.0 L442.38,524.9 L443.16,526.7 L443.93,528.5 L444.70,530.2 L445.47,532.0 L446.25,533.7 L447.02,535.5 L447.79,537.2 L448.56,538.9 L449.34,540.5 L450.11,542.2 L450.88,543.8 L451.65,545.5 L452.43,547.1 L453.20,548.7 L453.97,550.3 L454.74,551.9 L455.51,553.5 L456.29,555.0 L457.06,556.6 L457.83,558.2 L458.60,559.7 L459.38,561.2 L460.15,562.8 L460.92,564.3 L461.69,565.8 L462.47,567.3 L463.24,568.8 L464.01,570.2 L464.78,571.7 L465.55,573.2 L466.33,574.6 L467.10,576.1 L467.87,577.5 L468.64,578.9 L469.42,580.4 L470.19,581.8 L470.96,583.2 L471.73,584.6 L472.51,586.0 L473.28,587.3 L474.05,588.7 L474.82,590.1 L475.59,591.4 L476.37,592.8 L477.14,594.1 L477.91,595.5 L478.68,596.8 L479.46,598.1 L480.23,599.4 L481.00,600.7 L481.77,602.0 L482.55,603.3 L483.32,604.6 L484.09,605.9 L484.86,607.1 L485.63,608.4 L486.41,609.6 L487.18,610.9 L487.95,612.1 L488.72,613.3 L489.50,614.6 L490.27,615.8 L491.04,617.0 L491.81,618.2 L492.59,619.4 L493.36,620.6 L494.13,621.7 L494.90,622.9 L495.68,624.1 L496.45,625.3 L497.22,626.4 L497.99,627.6 L498.76,628.7 L499.54,629.8 L500.31,631.0 L501.08,632.1 L501.85,633.2 L502.63,634.3 L503.40,635.4 L504.17,636.5 L504.94,637.6 L505.72,638.7 L506.49,639.8 L507.26,640.8 L508.03,641.9 L508.80,643.0 L509.58,644.0 L510.35,645.1 L511.12,646.1 L511.89,647.2 L512.67,648.2 L513.44,649.2 L514.21,650.3 L514.98,651.3 L515.76,652.3 L516.53,653.3 L517.30,654.3 L518.07,655.3 L518.84,656.3" stroke="#000" stroke-width="1.45"/>
<path d="M81.87,624.1 L82.64,624.2 L83.41,624.3 L84.18,624.3 L84.96,624.4 L85.73,624.5 L86.50,624.6 L87.27,624.7 L88.04,624.8 L88.82,624.8 L89.59,624.9 L90.36,625.0 L91.13,625.1 L91.91,625.2 L92.68,625.2 L93.45,625.3 L94.22,625.4 L95.00,625.5 L95.77,625.6 L96.54,625.6 L97.31,625.7 L98.08,625.8 L98.86,625.9 L99.63,626.0 L100.40,626.1 L101.17,626.1 L101.95,626.2 L102.72,626.3 L103.49,626.4 L104.26,626.5 L105.04,626.5 L105.81,626.6 L106.58,626.7 L107.35,626.8 L108.12,626.9 L108.90,627.0 L109.67,627.0 L110.44,627.1 L111.21,627.2 L111.99,627.3 L112.76,627.4 L113.53,627.4 L114.30,627.5 L115.08,627.6 L115.85,627.7 L116.62,627.8 L117.39,627.9 L118.16,627.9 L118.94,628.0 L119.71,628.1 L120.48,628.2 L121.25,628.3 L122.03,628.4 L122.80,628.4 L123.57,628.5 L124.34,628.6 L125.12,628.7 L125.89,628.8 L126.66,628.8 L127.43,628.9 L128.21,629.0 L128.98,629.1 L129.75,629.2 L130.52,629.3 L131.29,629.3 L132.07,629.4 L132.84,629.5 L133.61,629.6 L134.38,629.7 L135.16,629.7 L135.93,629.8 L136.70,629.9 L137.47,630.0 L138.25,630.1 L139.02,630.2 L139.79,630.2 L140.56,630.3 L141.33,630.4 L142.11,630.5 L142.88,630.6 L143.65,630.7 L144.42,630.7 L145.20,630.8 L145.97,630.9 L146.74,631.0 L147.51,631.1 L148.29,631.1 L149.06,631.2 L149.83,631.3 L150.60,631.4 L151.37,631.5 L152.15,631.6 L152.92,631.6 L153.69,631.7 L154.46,631.8 L155.24,631.9 L156.01,632.0 L156.78,632.0 L157.55,632.1 L158.33,632.2 L159.10,632.3 L159.87,632.4 L160.64,632.5 L161.41,632.5 L162.19,632.6 L162.96,632.7 L163.73,632.8 L164.50,632.9 L165.28,633.0 L166.05,633.0 L166.82,633.1 L167.59,633.2 L168.37,633.3 L169.14,633.4 L169.91,633.5 L170.68,633.5 L171.46,633.6 L172.23,633.7 L173.00,633.8 L173.77,633.9 L174.54,634.0 L175.32,634.1 L176.09,634.1 L176.86,634.2 L177.63,634.3 L178.41,634.4 L179.18,634.5 L179.95,634.6 L180.72,634.6 L181.50,634.7 L182.27,634.8 L183.04,634.9 L183.81,635.0 L184.58,635.1 L185.36,635.1 L186.13,635.2 L186.90,635.3 L187.67,635.4 L188.45,635.5 L189.22,635.6 L189.99,635.7 L190.76,635.7 L191.54,635.8 L192.31,635.9 L193.08,636.0 L193.85,636.1 L194.62,636.2 L195.40,636.2 L196.17,636.3 L196.94,636.4 L197.71,636.5 L198.49,636.6 L199.26,636.7 L200.03,636.7 L200.80,636.8 L201.58,636.9 L202.35,637.0 L203.12,637.1 L203.89,637.2 L204.66,637.3 L205.44,637.3 L206.21,637.4 L206.98,637.5 L207.75,637.6 L208.53,637.7 L209.30,637.7 L210.07,637.8 L210.84,637.9 L211.62,638.0 L212.39,638.1 L213.16,638.2 L213.93,638.2 L214.70,638.3 L215.48,638.4 L216.25,638.5 L217.02,638.6 L217.79,638.7 L218.57,638.7 L219.34,638.8 L220.11,638.9 L220.88,639.0 L221.66,639.1 L222.43,639.1 L223.20,639.2 L223.97,639.3 L224.75,639.4 L225.52,639.5 L226.29,639.5 L227.06,639.6 L227.83,639.7 L228.61,639.8 L229.38,639.8 L230.15,639.9 L230.92,640.0 L231.70,640.1 L232.47,640.1 L233.24,640.2 L234.01,640.3 L234.79,640.4 L235.56,640.4 L236.33,640.5 L237.10,640.6 L237.87,640.7 L238.65,640.7 L239.42,640.8 L240.19,640.9 L240.96,640.9 L241.74,641.0 L242.51,641.1 L243.28,641.1 L244.05,641.2 L244.83,641.3 L245.60,641.3 L246.37,641.4 L247.14,641.5 L247.91,641.5 L248.69,641.6 L249.46,641.7 L250.23,641.7 L251.00,641.8 L251.78,641.9 L252.55,641.9 L253.32,642.0 L254.09,642.1 L254.87,642.1 L255.64,642.2 L256.41,642.3 L257.18,642.3 L257.95,642.4 L258.73,642.4 L259.50,642.5 L260.27,642.6 L261.04,642.6 L261.82,642.7 L262.59,642.8 L263.36,642.8 L264.13,642.9 L264.91,642.9 L265.68,643.0 L266.45,643.1 L267.22,643.1 L268.00,643.2 L268.77,643.2 L269.54,643.3 L270.31,643.4 L271.08,643.4 L271.86,643.5 L272.63,643.6 L273.40,643.6 L274.17,643.7 L274.95,643.7 L275.72,643.8 L276.49,643.9 L277.26,643.9 L278.04,644.0 L278.81,644.0 L279.58,644.1 L280.35,644.2 L281.12,644.2 L281.90,644.3 L282.67,644.4 L283.44,644.4 L284.21,644.5 L284.99,644.5 L285.76,644.6 L286.53,644.7 L287.30,644.7 L288.08,644.8 L288.85,644.8 L289.62,644.9 L290.39,645.0 L291.16,645.0 L291.94,645.1 L292.71,645.2 L293.48,645.2 L294.25,645.3 L295.03,645.3 L295.80,645.4 L296.57,645.5 L297.34,645.5 L298.12,645.6 L298.89,645.6 L299.66,645.7 L300.43,645.7 L301.20,645.8 L301.98,645.9 L302.75,645.9 L303.52,646.0 L304.29,646.0 L305.07,646.1 L305.84,646.2 L306.61,646.2 L307.38,646.3 L308.16,646.3 L308.93,646.4 L309.70,646.4 L310.47,646.5 L311.24,646.6 L312.02,646.6 L312.79,646.7 L313.56,646.7 L314.33,646.8 L315.11,646.9 L315.88,646.9 L316.65,647.0 L317.42,647.0 L318.20,647.1 L318.97,647.1 L319.74,647.2 L320.51,647.3 L321.29,647.3 L322.06,647.4 L322.83,647.4 L323.60,647.5 L324.37,647.6 L325.15,647.6 L325.92,647.7 L326.69,647.7 L327.46,647.8 L328.24,647.9 L329.01,647.9 L329.78,648.0 L330.55,648.0 L331.33,648.1 L332.10,648.2 L332.87,648.2 L333.64,648.3 L334.41,648.4 L335.19,648.4 L335.96,648.5 L336.73,648.5 L337.50,648.6 L338.28,648.7 L339.05,648.7 L339.82,648.8 L340.59,648.9 L341.37,648.9 L342.14,649.0 L342.91,649.1 L343.68,649.1 L344.45,649.2 L345.23,649.3 L346.00,649.3 L346.77,649.4 L347.54,649.5 L348.32,649.6 L349.09,649.6 L349.86,649.7 L350.63,649.8 L351.41,649.8 L352.18,649.9 L352.95,650.0 L353.72,650.1 L354.49,650.1 L355.27,650.2 L356.04,650.3 L356.81,650.4 L357.58,650.4 L358.36,650.5 L359.13,650.6 L359.90,650.7 L360.67,650.7 L361.45,650.8 L362.22,650.9 L362.99,651.0 L363.76,651.0 L364.54,651.1 L365.31,651.2 L366.08,651.3 L366.85,651.3 L367.62,651.4 L368.40,651.5 L369.17,651.6 L369.94,651.6 L370.71,651.7 L371.49,651.8 L372.26,651.8 L373.03,651.9 L373.80,652.0 L374.58,652.1 L375.35,652.1 L376.12,652.2 L376.89,652.3 L377.66,652.3 L378.44,652.4 L379.21,652.5 L379.98,652.5 L380.75,652.6 L381.53,652.7 L382.30,652.7 L383.07,652.8 L383.84,652.9 L384.62,652.9 L385.39,653.0 L386.16,653.1 L386.93,653.1 L387.70,653.2 L388.48,653.3 L389.25,653.3 L390.02,653.4 L390.79,653.4 L391.57,653.5 L392.34,653.6 L393.11,653.6 L393.88,653.7 L394.66,653.8 L395.43,653.8 L396.20,653.9 L396.97,654.0 L397.74,654.0 L398.52,654.1 L399.29,654.2 L400.06,654.2 L400.83,654.3 L401.61,654.3 L402.38,654.4 L403.15,654.5 L403.92,654.5 L404.70,654.6 L405.47,654.7 L406.24,654.7 L407.01,654.8 L407.78,654.8 L408.56,654.9 L409.33,655.0 L410.10,655.0 L410.87,655.1 L411.65,655.2 L412.42,655.2 L413.19,655.3 L413.96,655.3 L414.74,655.4 L415.51,655.5 L416.28,655.5 L417.05,655.6 L417.83,655.7 L418.60,655.7 L419.37,655.8 L420.14,655.9 L420.91,655.9 L421.69,656.0 L422.46,656.1 L423.23,656.1 L424.00,656.2 L424.78,656.3 L425.55,656.3 L426.32,656.4 L427.09,656.5 L427.87,656.5 L428.64,656.6 L429.41,656.7 L430.18,656.7 L430.95,656.8 L431.73,656.8 L432.50,656.9 L433.27,657.0 L434.04,657.0 L434.82,657.1 L435.59,657.2 L436.36,657.2 L437.13,657.3 L437.91,657.3 L438.68,657.4 L439.45,657.4 L440.22,657.5 L440.99,657.5 L441.77,657.6 L442.54,657.6 L443.31,657.7 L444.08,657.7 L444.86,657.8 L445.63,657.8 L446.40,657.8 L447.17,657.9 L447.95,657.9 L448.72,657.9 L449.49,658.0 L450.26,658.0 L451.03,658.0 L451.81,658.1 L452.58,658.1 L453.35,658.1 L454.12,658.1 L454.90,658.2 L455.67,658.2 L456.44,658.2 L457.21,658.3 L457.99,658.3 L458.76,658.3 L459.53,658.4 L460.30,658.4 L461.08,658.4 L461.85,658.4 L462.62,658.5 L463.39,658.5 L464.16,658.5 L464.94,658.6 L465.71,658.6 L466.48,658.6 L467.25,658.7 L468.03,658.7 L468.80,658.7 L469.57,658.7 L470.34,658.8 L471.12,658.8 L471.89,658.8 L472.66,658.8 L473.43,658.8 L474.20,658.8 L474.98,658.8 L475.75,658.8 L476.52,658.8 L477.29,659.1 L478.07,659.6 L478.84,660.1 L479.61,660.7 L480.38,661.2 L481.16,661.4 L481.93,661.4 L482.70,661.3 L483.47,661.1 L484.24,661.0 L485.02,660.8 L485.79,660.6 L486.56,660.4 L487.33,660.3 L488.11,660.1 L488.88,660.0 L489.65,660.0 L490.42,659.9 L491.20,659.9 L491.97,659.9 L492.74,659.9 L493.51,660.3 L494.28,660.8 L495.06,661.4 L495.83,661.9 L496.60,662.1 L497.37,662.1 L498.15,662.1 L498.92,662.0 L499.69,661.9 L500.46,661.9 L501.24,661.8 L502.01,661.7 L502.78,661.7 L503.55,661.7 L504.32,661.7 L505.10,661.7 L505.87,661.7 L506.64,661.7 L507.41,661.8 L508.19,661.8 L508.96,661.8 L509.73,661.8 L510.50,661.8 L511.28,661.8 L512.05,661.9 L512.82,661.9 L513.59,661.9 L514.37,662.0 L515.14,662.0 L515.91,662.0 L516.68,662.1 L516.76,662.1" stroke="#000" stroke-width="3.3" stroke-dasharray="3.3 2.4"/>
</g>
<g fill="none" stroke-linecap="butt" stroke-width="0.8">
<path d="M81.87,271.4 H518.77" stroke="#777777" stroke-width="0.9"/>
<path d="M518.77,271.4 V708.3" stroke="#a8a8a8" stroke-width="0.85"/>
<path d="M81.94,271.0 V708.8" stroke="#9c9c9c" stroke-width="1.4"/>
<path d="M81.87,708.3 H519.15" stroke="#6a6a6a" stroke-width="0.95"/>
<line x1="81.87" y1="708.3" x2="81.87" y2="704.00" stroke="#909090" stroke-width="0.7"/>
<line x1="96.43" y1="708.3" x2="96.43" y2="704.00" stroke="#909090" stroke-width="0.7"/>
<line x1="110.99" y1="708.3" x2="110.99" y2="700.00" stroke="#6a6a6a"/>
<line x1="125.56" y1="708.3" x2="125.56" y2="704.00" stroke="#909090" stroke-width="0.7"/>
<line x1="140.12" y1="708.3" x2="140.12" y2="704.00" stroke="#909090" stroke-width="0.7"/>
<line x1="154.68" y1="708.3" x2="154.68" y2="704.00" stroke="#909090" stroke-width="0.7"/>
<line x1="169.25" y1="708.3" x2="169.25" y2="700.00" stroke="#6a6a6a"/>
<line x1="183.81" y1="708.3" x2="183.81" y2="704.00" stroke="#909090" stroke-width="0.7"/>
<line x1="198.37" y1="708.3" x2="198.37" y2="704.00" stroke="#909090" stroke-width="0.7"/>
<line x1="212.94" y1="708.3" x2="212.94" y2="704.00" stroke="#909090" stroke-width="0.7"/>
<line x1="227.50" y1="708.3" x2="227.50" y2="700.00" stroke="#6a6a6a"/>
<line x1="242.06" y1="708.3" x2="242.06" y2="704.00" stroke="#909090" stroke-width="0.7"/>
<line x1="256.63" y1="708.3" x2="256.63" y2="704.00" stroke="#909090" stroke-width="0.7"/>
<line x1="271.19" y1="708.3" x2="271.19" y2="704.00" stroke="#909090" stroke-width="0.7"/>
<line x1="285.75" y1="708.3" x2="285.75" y2="700.00" stroke="#6a6a6a"/>
<line x1="300.32" y1="708.3" x2="300.32" y2="704.00" stroke="#909090" stroke-width="0.7"/>
<line x1="314.88" y1="708.3" x2="314.88" y2="704.00" stroke="#909090" stroke-width="0.7"/>
<line x1="329.44" y1="708.3" x2="329.44" y2="704.00" stroke="#909090" stroke-width="0.7"/>
<line x1="344.01" y1="708.3" x2="344.01" y2="700.00" stroke="#6a6a6a"/>
<line x1="358.57" y1="708.3" x2="358.57" y2="704.00" stroke="#909090" stroke-width="0.7"/>
<line x1="373.13" y1="708.3" x2="373.13" y2="704.00" stroke="#909090" stroke-width="0.7"/>
<line x1="387.70" y1="708.3" x2="387.70" y2="704.00" stroke="#909090" stroke-width="0.7"/>
<line x1="402.26" y1="708.3" x2="402.26" y2="700.00" stroke="#6a6a6a"/>
<line x1="416.82" y1="708.3" x2="416.82" y2="704.00" stroke="#909090" stroke-width="0.7"/>
<line x1="431.39" y1="708.3" x2="431.39" y2="704.00" stroke="#909090" stroke-width="0.7"/>
<line x1="445.95" y1="708.3" x2="445.95" y2="704.00" stroke="#909090" stroke-width="0.7"/>
<line x1="460.51" y1="708.3" x2="460.51" y2="700.00" stroke="#6a6a6a"/>
<line x1="475.08" y1="708.3" x2="475.08" y2="704.00" stroke="#909090" stroke-width="0.7"/>
<line x1="489.64" y1="708.3" x2="489.64" y2="704.00" stroke="#909090" stroke-width="0.7"/>
<line x1="504.20" y1="708.3" x2="504.20" y2="704.00" stroke="#909090" stroke-width="0.7"/>
<line x1="518.77" y1="708.3" x2="518.77" y2="700.00" stroke="#6a6a6a"/>
<line x1="81.87" y1="708.30" x2="86.19" y2="708.30" stroke="#909090" stroke-width="0.8"/>
<line x1="81.87" y1="697.82" x2="86.19" y2="697.82" stroke="#909090" stroke-width="0.8"/>
<line x1="81.87" y1="688.96" x2="86.19" y2="688.96" stroke="#909090" stroke-width="0.8"/>
<line x1="81.87" y1="681.28" x2="86.19" y2="681.28" stroke="#909090" stroke-width="0.8"/>
<line x1="81.87" y1="674.51" x2="86.19" y2="674.51" stroke="#909090" stroke-width="0.8"/>
<line x1="81.87" y1="668.46" x2="90.59" y2="668.46" stroke="#6a6a6a"/>
<line x1="81.87" y1="628.62" x2="86.19" y2="628.62" stroke="#909090" stroke-width="0.8"/>
<line x1="81.87" y1="605.31" x2="86.19" y2="605.31" stroke="#909090" stroke-width="0.8"/>
<line x1="81.87" y1="588.77" x2="86.19" y2="588.77" stroke="#909090" stroke-width="0.8"/>
<line x1="81.87" y1="575.95" x2="86.19" y2="575.95" stroke="#909090" stroke-width="0.8"/>
<line x1="81.87" y1="565.47" x2="86.19" y2="565.47" stroke="#909090" stroke-width="0.8"/>
<line x1="81.87" y1="556.61" x2="86.19" y2="556.61" stroke="#909090" stroke-width="0.8"/>
<line x1="81.87" y1="548.93" x2="86.19" y2="548.93" stroke="#909090" stroke-width="0.8"/>
<line x1="81.87" y1="542.16" x2="86.19" y2="542.16" stroke="#909090" stroke-width="0.8"/>
<line x1="81.87" y1="536.11" x2="90.59" y2="536.11" stroke="#6a6a6a"/>
<line x1="81.87" y1="496.26" x2="86.19" y2="496.26" stroke="#909090" stroke-width="0.8"/>
<line x1="81.87" y1="472.96" x2="86.19" y2="472.96" stroke="#909090" stroke-width="0.8"/>
<line x1="81.87" y1="456.42" x2="86.19" y2="456.42" stroke="#909090" stroke-width="0.8"/>
<line x1="81.87" y1="443.59" x2="86.19" y2="443.59" stroke="#909090" stroke-width="0.8"/>
<line x1="81.87" y1="433.11" x2="86.19" y2="433.11" stroke="#909090" stroke-width="0.8"/>
<line x1="81.87" y1="424.25" x2="86.19" y2="424.25" stroke="#909090" stroke-width="0.8"/>
<line x1="81.87" y1="416.58" x2="86.19" y2="416.58" stroke="#909090" stroke-width="0.8"/>
<line x1="81.87" y1="409.81" x2="86.19" y2="409.81" stroke="#909090" stroke-width="0.8"/>
<line x1="81.87" y1="403.75" x2="90.59" y2="403.75" stroke="#6a6a6a"/>
<line x1="81.87" y1="363.91" x2="86.19" y2="363.91" stroke="#909090" stroke-width="0.8"/>
<line x1="81.87" y1="340.60" x2="86.19" y2="340.60" stroke="#909090" stroke-width="0.8"/>
<line x1="81.87" y1="324.07" x2="86.19" y2="324.07" stroke="#909090" stroke-width="0.8"/>
<line x1="81.87" y1="311.24" x2="86.19" y2="311.24" stroke="#909090" stroke-width="0.8"/>
<line x1="81.87" y1="300.76" x2="86.19" y2="300.76" stroke="#909090" stroke-width="0.8"/>
<line x1="81.87" y1="291.90" x2="86.19" y2="291.90" stroke="#909090" stroke-width="0.8"/>
<line x1="81.87" y1="284.23" x2="86.19" y2="284.23" stroke="#909090" stroke-width="0.8"/>
<line x1="81.87" y1="277.46" x2="86.19" y2="277.46" stroke="#909090" stroke-width="0.8"/>
<line x1="81.87" y1="271.40" x2="90.59" y2="271.40" stroke="#6a6a6a"/>
</g>
<text x="111.22" y="721.7" font-size="12.3" text-anchor="middle" fill="#000" >116</text>
<text x="169.48" y="721.7" font-size="12.3" text-anchor="middle" fill="#000" >118</text>
<text x="227.73" y="721.7" font-size="12.3" text-anchor="middle" fill="#000" >120</text>
<text x="285.98" y="721.7" font-size="12.3" text-anchor="middle" fill="#000" >122</text>
<text x="344.24" y="721.7" font-size="12.3" text-anchor="middle" fill="#000" >124</text>
<text x="402.49" y="721.7" font-size="12.3" text-anchor="middle" fill="#000" >126</text>
<text x="460.75" y="721.7" font-size="12.3" text-anchor="middle" fill="#000" >128</text>
<text x="519.00" y="721.7" font-size="12.3" text-anchor="middle" fill="#000" >130</text>
<text x="71.21" y="275.4" font-size="12.0" text-anchor="end" fill="#000" >10</text>
<text x="71.05" y="407.4" font-size="12.0" text-anchor="end" fill="#000" >1</text>
<text x="67.50" y="540.5" font-size="11.6" text-anchor="end" fill="#000" >10</text>
<text x="71.83" y="530.8" font-size="8.6" text-anchor="start" fill="#000" >-1</text>
<text x="67.50" y="672.9" font-size="11.6" text-anchor="end" fill="#000" >10</text>
<text x="71.83" y="663.2" font-size="8.6" text-anchor="start" fill="#000" >-2</text>
<line x1="402.30" y1="291.0" x2="461.08" y2="291.0" stroke="#000" stroke-width="1.5"/>
<text x="466.40" y="296.4" font-size="16" text-anchor="start" fill="#000" >P0</text>
<line x1="402.30" y1="311.0" x2="461.08" y2="311.0" stroke="#ff0000" stroke-width="1.6" stroke-dasharray="3.2 2.56"/>
<text x="466.40" y="316.4" font-size="16" text-anchor="start" fill="#ff0000" >P1</text>
<line x1="402.30" y1="330.9" x2="461.08" y2="330.9" stroke="#0000ff" stroke-width="1.6" stroke-dasharray="1.1 1.79"/>
<text x="466.40" y="336.8" font-size="16" text-anchor="start" fill="#0000ff" >P2</text>
<line x1="402.30" y1="351.0" x2="461.08" y2="351.0" stroke="#ff00ff" stroke-width="1.6" stroke-dasharray="3.2 3.2 1.05 3.6"/>
<text x="466.40" y="357.1" font-size="16" text-anchor="start" fill="#ff00ff" >P3</text>
<text x="241.97" y="634.2" font-size="16.1" text-anchor="start" fill="#000" >SM Background</text>
<text x="422.46" y="744.6" font-size="21">√</text>
<text x="431.73" y="744.6" font-size="21">p</text>
<text x="443.31" y="736.1" font-size="15">2</text>
<text x="456.67" y="744.6" font-size="21">[</text>
<text x="467.64" y="744.6" font-size="21">G</text>
<text x="482.24" y="744.6" font-size="21">e</text>
<text x="489.81" y="744.6" font-size="21">V</text>
<text x="512.05" y="744.6" font-size="21">]</text>
<g transform="translate(43.87,577.0) scale(1.0581,0.95) rotate(-90)"><text x="-2.1" y="0.0" font-size="19.5" >d</text><text transform="translate(9.7,0) scale(1.28,1.08)" font-size="19.5" font-weight="normal">σ</text><text x="23.4" y="6.0" font-size="15" >tot</text><text x="34.1" y="-7.2" font-size="14" >b</text><text x="56.6" y="0.0" font-size="19.5" >d</text><text x="79.2" y="0.0" font-size="19.5" >p</text><text x="90.3" y="-9.2" font-size="15.5" >2</text><text x="103.8" y="0.0" font-size="19.5" >·</text><text x="115.5" y="0.0" font-size="19.5" >B</text><text x="129.6" y="0.0" font-size="19.5" >(</text><text x="142.2" y="0.0" font-size="19.5" >Z</text><text x="186.7" y="0.0" font-size="19.5" >l</text><text x="190.9" y="-7.7" font-size="17" font-weight="normal">+</text><text x="200.6" y="0.0" font-size="19.5" >l</text><text x="205.3" y="-8.7" font-size="16" font-weight="normal">−</text><text x="220.0" y="0.0" font-size="19.5" >)</text><text x="232.4" y="0.0" font-size="19.5" >[</text><text x="244.3" y="0.0" font-size="19.5" textLength="64.9" lengthAdjust="spacingAndGlyphs">fb/GeV</text><text x="314.8" y="0.0" font-size="19.5" >]</text></g>
<path d="M43.87,533.0 L30.04,529.0" stroke="#000" stroke-width="1.9" fill="none"/>
<path d="M35.06,511.4 L33.67,509.3 L43.48,506.1" stroke="#000" stroke-width="1.7" fill="none" stroke-linejoin="miter"/>
<path d="M43.48,506.1 L26.10,501.6" stroke="#000" stroke-width="0.9" fill="none"/>
<path d="M38.54,423.6 L38.54,406.6 M33.67,411.0 L38.54,406.2 L43.56,411.0" stroke="#000" stroke-width="1.1" fill="none"/>
</g>
</svg>
</body></html>
